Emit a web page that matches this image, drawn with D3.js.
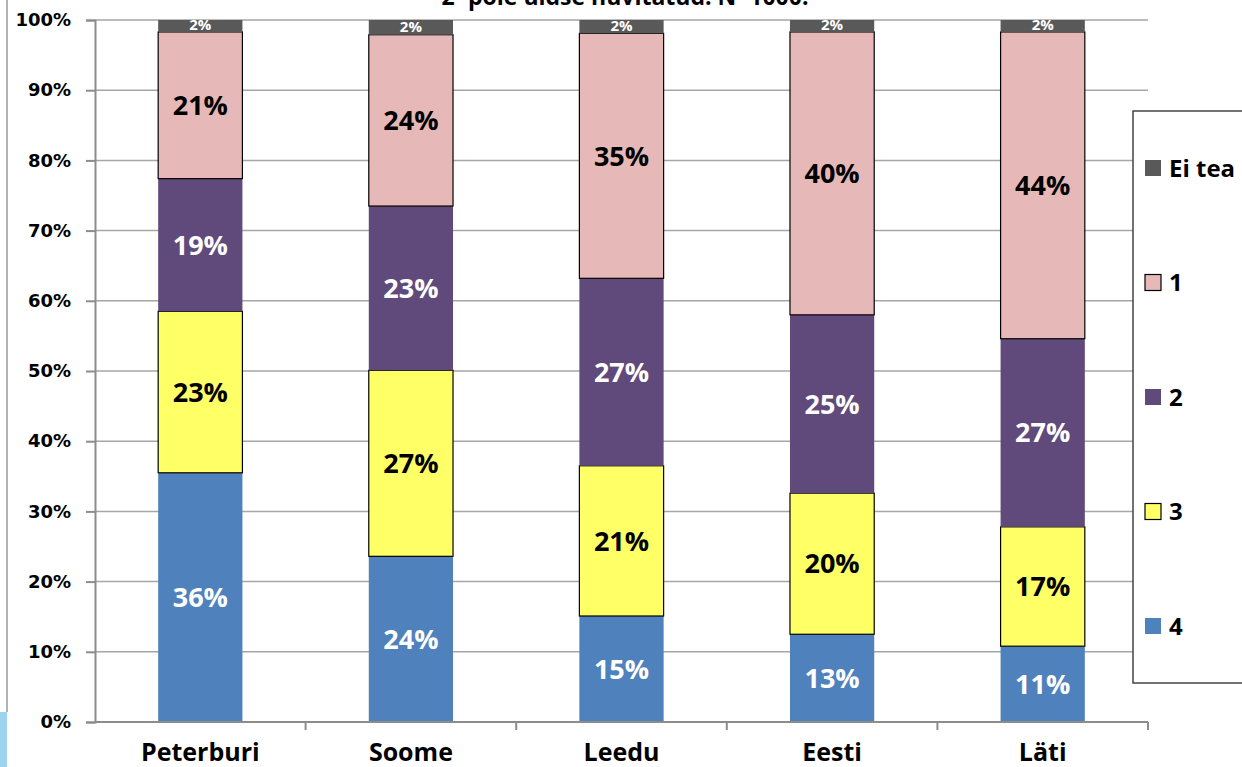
<!DOCTYPE html>
<html>
<head>
<meta charset="utf-8">
<script src="https://cdn.jsdelivr.net/npm/d3@7"></script>
<style>
  body { margin: 0; background: #fff; }
  svg { display: block; }
</style>
</head>
<body>
<div id="chart"></div>
<script>
// categories and series (shares in %)
var categories = ["Peterburi", "Soome", "Leedu", "Eesti", "Läti"];
var seriesNames = ["4", "3", "2", "1", "Ei tea"];   // bottom -> top
var s4 = [35.5, 23.6, 15.1, 12.5, 10.8];
var s3 = [23.0, 26.5, 21.4, 20.1, 17.0];
var s2 = [18.9, 23.4, 26.7, 25.4, 26.8];
var s1 = [20.9, 24.4, 34.9, 40.3, 43.7];
var sEiTea = [1.7, 2.1, 1.9, 1.7, 1.7];
var yTicks = [0, 10, 20, 30, 40, 50, 60, 70, 80, 90, 100];
var legendOrder = ["Ei tea", "1", "2", "3", "4"];
var titleText = "2- pole üldse huvitatud. N=1000.";

var width = 1242, height = 767;
var margin = {top: 20, left: 95, right: 94, bottom: 45};

var colors = {"4": "#4f81bd", "3": "#ffff66", "2": "#604a7b", "1": "#e6b9b8", "Ei tea": "#595959"};
var labelColors = {"4": "#fff", "3": "#000", "2": "#fff", "1": "#000", "Ei tea": "#fff"};
var outlined = {"3": true, "1": true};

var values = {"4": s4, "3": s3, "2": s2, "1": s1, "Ei tea": sEiTea};

var rows = categories.map(function(c, i) {
    var r = {cat: c};
    seriesNames.forEach(function(s) { r[s] = values[s][i]; });
    return r;
});

var stack = d3.stack().keys(seriesNames)(rows);

var svg = d3.select("#chart").append("svg")
    .attr("width", width)
    .attr("height", height);

// leftover bits at the left edge of the screenshot
svg.append("line")
    .attr("x1", 7).attr("x2", 7).attr("y1", 0).attr("y2", 712)
    .attr("stroke", "#9a9a9a").attr("stroke-width", 1.5);
svg.append("rect")
    .attr("x", 0).attr("y", 712).attr("width", 7).attr("height", 55)
    .attr("fill", "#9dd3ee");

// title, cut off at the top like in the screenshot
svg.append("text")
    .attr("x", 625).attr("y", 5)
    .attr("text-anchor", "middle")
    .style("font-family", "'Open Sans', sans-serif")
    .style("font-weight", "bold")
    .style("font-size", "23px")
    .text(titleText);

var x = d3.scaleBand()
    .domain(categories)
    .range([margin.left, width - margin.right])
    .paddingInner(0.6)
    .paddingOuter(0.3);

var xOuter = d3.scaleBand()
    .domain(categories)
    .range([margin.left, width - margin.right]);

var y = d3.scaleLinear()
    .domain([0, 100])
    .range([height - margin.bottom, margin.top]);

// gridlines
svg.append("g")
    .selectAll("line")
    .data(yTicks.slice(1))
    .enter().append("line")
    .attr("x1", margin.left).attr("x2", width - margin.right)
    .attr("y1", function(d) { return y(d); })
    .attr("y2", function(d) { return y(d); })
    .attr("stroke", "#a6a6a6")
    .attr("stroke-width", 1.5);

// bars
var layers = svg.append("g").selectAll("g")
    .data(stack)
    .enter().append("g");

layers.selectAll("rect")
    .data(function(d) { return d.map(function(p) { return {key: d.key, p: p}; }); })
    .enter().append("rect")
    .attr("x", function(d) { return x(d.p.data.cat); })
    .attr("width", x.bandwidth())
    .attr("y", function(d) { return y(d.p[1]); })
    .attr("height", function(d) { return y(d.p[0]) - y(d.p[1]); })
    .attr("fill", function(d) { return colors[d.key]; })
    .attr("stroke", function(d) { return outlined[d.key] ? "#000" : "none"; })
    .attr("stroke-width", 1.2);

// data labels
layers.selectAll("text")
    .data(function(d) { return d.map(function(p) { return {key: d.key, p: p}; }); })
    .enter().append("text")
    .attr("x", function(d) { return x(d.p.data.cat) + x.bandwidth() / 2; })
    .attr("y", function(d) { return (y(d.p[0]) + y(d.p[1])) / 2; })
    .attr("dy", function(d) { return d.key === "Ei tea" ? "0.3em" : "0.36em"; })
    .attr("text-anchor", "middle")
    .attr("fill", function(d) { return labelColors[d.key]; })
    .style("font-family", "'Open Sans', sans-serif")
    .style("font-weight", "bold")
    .style("font-size", function(d) { return d.key === "Ei tea" ? "15px" : "27px"; })
    .text(function(d) { return Math.round(d.p[1] - d.p[0]) + "%"; });

// y axis
var yAxis = d3.axisLeft(y)
    .tickValues(yTicks)
    .tickSize(9)
    .tickPadding(15)
    .tickFormat(function(d) { return d + "%"; });

var gy = svg.append("g")
    .attr("transform", "translate(" + margin.left + ",0)")
    .call(yAxis);
gy.selectAll("path, line").attr("stroke", "#8c8c8c").attr("stroke-width", 2);
gy.selectAll("text")
    .style("font-family", "'DejaVu Sans', Verdana, sans-serif")
    .style("font-weight", "bold")
    .style("font-size", "18px")
    .attr("fill", "#000");

// x axis: ticks sit on the category boundaries
var gx = svg.append("g")
    .attr("transform", "translate(0," + (height - margin.bottom) + ")");
gx.append("line")
    .attr("x1", margin.left).attr("x2", width - margin.right)
    .attr("stroke", "#8c8c8c").attr("stroke-width", 2);
gx.selectAll("line.tick")
    .data(categories)
    .enter().append("line")
    .attr("class", "tick")
    .attr("x1", function(d) { return xOuter(d) + xOuter.bandwidth(); })
    .attr("x2", function(d) { return xOuter(d) + xOuter.bandwidth(); })
    .attr("y1", 0).attr("y2", 8)
    .attr("stroke", "#8c8c8c").attr("stroke-width", 2);
gx.selectAll("text")
    .data(categories)
    .enter().append("text")
    .attr("x", function(d) { return xOuter(d) + xOuter.bandwidth() / 2; })
    .attr("y", 39)
    .attr("text-anchor", "middle")
    .style("font-family", "'Open Sans', sans-serif")
    .style("font-weight", "bold")
    .style("font-size", "25px")
    .text(function(d) { return d; });

// legend
var legend = svg.append("g");
legend.append("rect")
    .attr("x", 1133).attr("y", 111)
    .attr("width", 130).attr("height", 572)
    .attr("fill", "#fff")
    .attr("stroke", "#444")
    .attr("stroke-width", 1.5);

var legendY = d3.scalePoint()
    .domain(legendOrder)
    .range([168, 626]);

var items = legend.selectAll("g.item")
    .data(legendOrder)
    .enter().append("g")
    .attr("class", "item")
    .attr("transform", function(d) { return "translate(1145," + legendY(d) + ")"; });

items.append("rect")
    .attr("x", 0).attr("y", -8)
    .attr("width", 16).attr("height", 16)
    .attr("fill", function(d) { return colors[d]; })
    .attr("stroke", function(d) { return outlined[d] ? "#000" : "none"; })
    .attr("stroke-width", 1.2);

items.append("text")
    .attr("x", 24).attr("dy", "0.36em")
    .style("font-family", "'Open Sans', sans-serif")
    .style("font-weight", "bold")
    .style("font-size", "24px")
    .text(function(d) { return d; });
</script>
</body>
</html>
